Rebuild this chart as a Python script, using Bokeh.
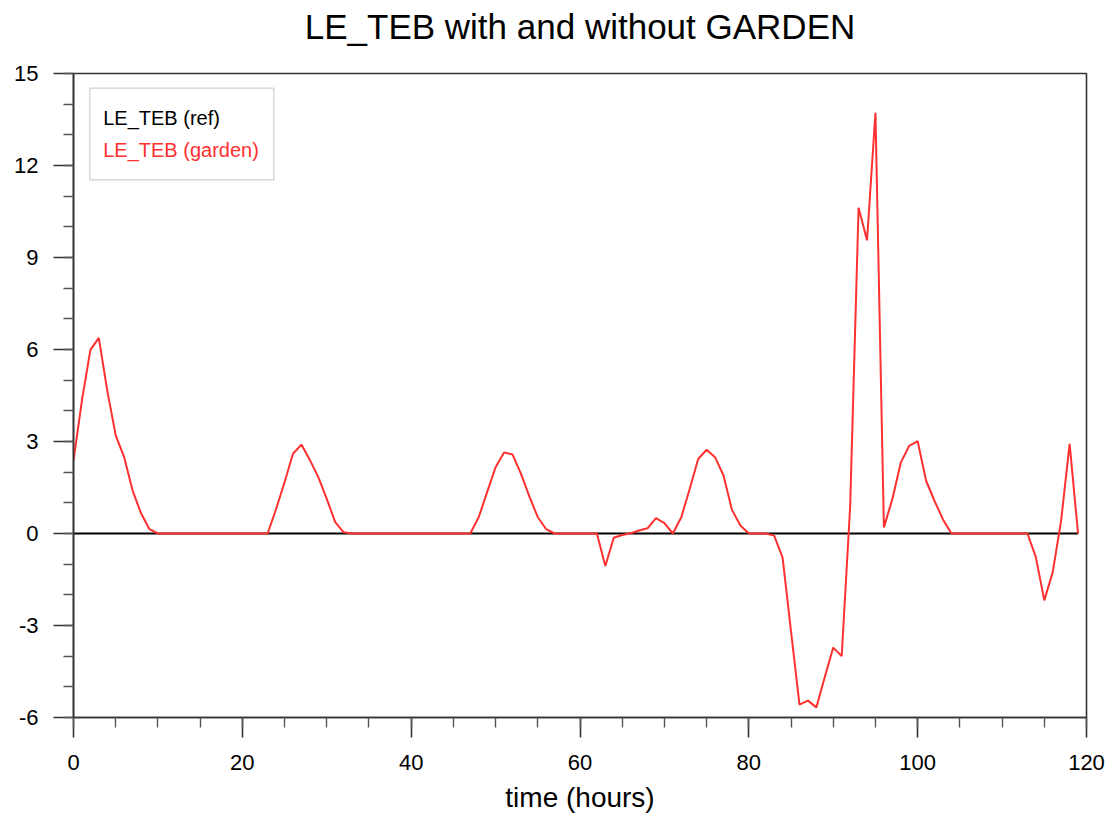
from bokeh.plotting import figure
from bokeh.models import (SingleIntervalTicker, Range1d, Label, BoxAnnotation,
                          ColumnDataSource, Title)
from bokeh.embed import file_html
from bokeh.resources import INLINE

# ---------------- data ----------------
hours = list(range(120))
le_teb_ref = [0.0] * 120
le_teb_garden = [
    2.38, 4.34, 5.99, 6.38, 4.66, 3.20, 2.49, 1.40, 0.66, 0.14,   # 0-9
    0, 0, 0, 0, 0, 0, 0, 0, 0, 0,                                 # 10-19
    0, 0, 0, 0, 0.80, 1.67, 2.60, 2.90, 2.40, 1.84,               # 20-29
    1.13, 0.37, 0.04, 0, 0, 0, 0, 0, 0, 0,                        # 30-39
    0, 0, 0, 0, 0, 0, 0, 0, 0.53, 1.35,                           # 40-49
    2.16, 2.64, 2.58, 1.95, 1.21, 0.53, 0.14, 0, 0, 0,            # 50-59
    0, 0, 0, -1.06, -0.14, -0.05, 0.01, 0.10, 0.17, 0.50,         # 60-69
    0.34, 0, 0.53, 1.46, 2.43, 2.73, 2.49, 1.89, 0.77, 0.26,      # 70-79
    0, 0, 0, -0.07, -0.79, -3.20, -5.58, -5.45, -5.67, -4.68,     # 80-89
    -3.72, -4.00, 0.86, 10.62, 9.56, 13.72, 0.20, 1.12, 2.31, 2.86,  # 90-99
    3.01, 1.72, 1.06, 0.46, 0, 0, 0, 0, 0, 0,                     # 100-109
    0, 0, 0, 0, -0.77, -2.18, -1.26, 0.43, 2.92, 0.0,             # 110-119
]
title_text = "LE_TEB with and without GARDEN"
x_label = "time (hours)"
y_tick_labels = {-6: "-6", -3: "-3", 0: "0", 3: "3", 6: "6", 9: "9", 12: "12", 15: "15"}
legend_labels = ["LE_TEB (ref)", "LE_TEB (garden)"]
series_colors = ["black", "#ff3030"]

FONT = "Liberation Sans"

p = figure(width=1110, height=816, frame_width=1013, frame_height=644,
           min_border_left=73, min_border_right=24, min_border_top=73,
           min_border_bottom=99, output_backend="svg", toolbar_location=None,
           x_range=Range1d(0, 120), y_range=Range1d(-6, 15))

# spacer between frame and title, then the title itself (stacked outward)
p.add_layout(Title(text=" ", text_font_size="2px", standoff=24), "above")
p.add_layout(Title(text=title_text, text_font=FONT, text_font_size="35px",
                   text_font_style="normal", align="center",
                   text_color="black", standoff=0), "above")

p.outline_line_color = "#333333"
p.outline_line_width = 1.6
p.xgrid.visible = False
p.ygrid.visible = False
p.background_fill_color = "white"
p.border_fill_color = "white"

for ax in (p.xaxis[0], p.yaxis[0]):
    ax.axis_line_color = "#333333"
    ax.axis_line_width = 1.6
    ax.major_tick_line_color = "#333333"
    ax.major_tick_line_width = 1.6
    ax.minor_tick_line_color = "#555555"
    ax.minor_tick_line_width = 1.4
    ax.major_tick_out = 20
    ax.major_tick_in = 0
    ax.minor_tick_out = 10
    ax.minor_tick_in = 0
    ax.major_label_text_font = FONT
    ax.major_label_text_font_size = "22px"
    ax.major_label_text_color = "black"

p.xaxis[0].ticker = SingleIntervalTicker(interval=20, num_minor_ticks=4)
p.yaxis[0].ticker = SingleIntervalTicker(interval=3, num_minor_ticks=3)
p.yaxis[0].major_label_overrides = y_tick_labels
p.xaxis[0].major_label_standoff = 17
p.yaxis[0].major_label_standoff = 15
p.xaxis[0].axis_label = x_label
p.xaxis[0].axis_label_text_font = FONT
p.xaxis[0].axis_label_text_font_size = "28px"
p.xaxis[0].axis_label_text_font_style = "normal"
p.xaxis[0].axis_label_text_color = "black"
p.xaxis[0].axis_label_standoff = 9

src = ColumnDataSource(dict(h=hours, ref=le_teb_ref, garden=le_teb_garden))
p.line("h", "ref", source=src, line_color=series_colors[0], line_width=2)
p.line("h", "garden", source=src, line_color=series_colors[1], line_width=2)

# legend box (NCL-style, text only)
p.add_layout(BoxAnnotation(left=1.93, right=23.73, bottom=11.53, top=14.52,
                           fill_color="white", fill_alpha=1.0,
                           line_color="#666666", line_width=1.3))
for i, (lab, col) in enumerate(zip(legend_labels, series_colors)):
    p.add_layout(Label(x=3.52, y=13.55 - i * 1.06, text=lab, text_color=col,
                       text_font=FONT, text_font_size="20px",
                       text_baseline="middle", text_align="left"))

open("out.html", "w").write(file_html(p, INLINE))
